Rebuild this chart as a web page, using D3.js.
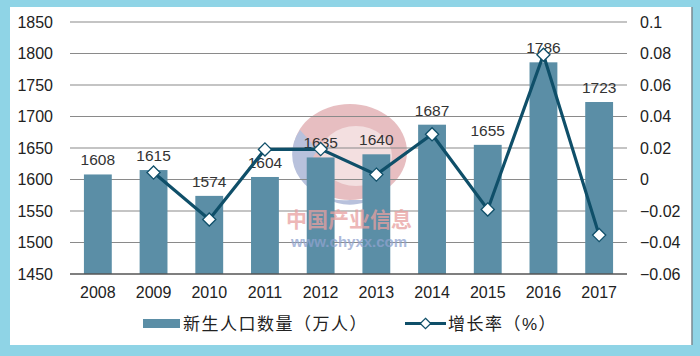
<!DOCTYPE html>
<html><head><meta charset="utf-8">
<script src="https://cdn.jsdelivr.net/npm/d3@7/dist/d3.min.js"></script>
<style>html,body{margin:0;padding:0;background:#8fd4e6;}svg{display:block;}</style>
</head><body>
<svg id="c" width="700" height="356"></svg>
<script>
const years = ["2008","2009","2010","2011","2012","2013","2014","2015","2016","2017"];
const births = [1608,1615,1574,1604,1635,1640,1687,1655,1786,1723];
const growthYears = ["2009","2010","2011","2012","2013","2014","2015","2016","2017"];
const growth = [0.0044,-0.0254,0.0191,0.0193,0.0031,0.0287,-0.0190,0.0792,-0.0353];
const leftTicks = [1450,1500,1550,1600,1650,1700,1750,1800,1850];
const rightTicks = [-0.06,-0.04,-0.02,0,0.02,0.04,0.06,0.08,0.1];
const legendBar = "新生人口数量（万人）";
const legendLine = "增长率（%）";

const svg = d3.select("#c");
const font = "Arial, 'Liberation Sans', 'Noto Sans CJK SC', sans-serif";
svg.append("rect").attr("x",0).attr("y",0).attr("width",700).attr("height",356).attr("fill","#8fd4e6");
svg.append("rect").attr("x",10).attr("y",7).attr("width",682).attr("height",338).attr("fill","#ffffff");
svg.append("line").attr("x1",692).attr("x2",692).attr("y1",7).attr("y2",345).attr("stroke","#7a8a90").attr("stroke-width",1.5);

const L = 70, R = 627, T = 22, B = 274;
const x = d3.scaleBand().domain(years).range([L,R]).paddingInner(0.5).paddingOuter(0.25);
const yL = d3.scaleLinear().domain([1450,1850]).range([B,T]);
const yR = d3.scaleLinear().domain([-0.06,0.1]).range([B,T]);

// watermark circle
const wm = svg.append("g").attr("opacity",0.55);
wm.append("ellipse").attr("cx",350).attr("cy",152).attr("rx",57).attr("ry",48).attr("fill","#d48a8f");
wm.append("path").attr("d","M300,130 A52,46 0 0 0 350,200 L370,200 A40,34 0 0 1 318,150 Z").attr("fill","#7f8fc0");
wm.append("ellipse").attr("cx",356).attr("cy",156).attr("rx",36).attr("ry",30).attr("fill","#ffffff").attr("opacity",0.5);

// gridlines
svg.append("g").selectAll("line").data(leftTicks.slice(1)).join("line")
  .attr("x1",L).attr("x2",R).attr("y1",d=>yL(d)).attr("y2",d=>yL(d))
  .attr("stroke","#8a8a8a").attr("stroke-width",1.2);

// bars
svg.append("g").selectAll("rect").data(births).join("rect")
  .attr("x",(d,i)=>x(years[i])).attr("width",x.bandwidth())
  .attr("y",d=>yL(d)).attr("height",d=>B-yL(d)).attr("fill","#5b8ea6");

// x axis line
svg.append("line").attr("x1",L).attr("x2",R).attr("y1",B).attr("y2",B).attr("stroke","#555").attr("stroke-width",1.5);

// watermark text
svg.append("text").attr("x",349).attr("y",227).attr("text-anchor","middle").attr("font-family",font)
  .attr("font-size",21).attr("font-weight","bold").attr("fill","#e8a0a0").attr("opacity",0.75).text("中国产业信息");
svg.append("text").attr("x",349).attr("y",247).attr("text-anchor","middle").attr("font-family",font)
  .attr("font-size",15).attr("font-weight","bold").attr("fill","#8fa3cf").attr("opacity",0.75).text("www.chyxx.com");

// bar labels
svg.append("g").selectAll("text").data(births).join("text")
  .attr("x",(d,i)=>x(years[i])+x.bandwidth()/2).attr("y",d=>yL(d)-9)
  .attr("text-anchor","middle").attr("font-family",font).attr("font-size",15.5)
  .attr("fill","#333").text(d=>d);

// line
const cx = yr => x(yr)+x.bandwidth()/2;
const line = d3.line().x((d,i)=>cx(growthYears[i])).y(d=>yR(d));
svg.append("path").datum(growth).attr("d",line).attr("fill","none")
  .attr("stroke","#0f4f69").attr("stroke-width",3.2).attr("stroke-linejoin","miter");
const diamond = d3.symbol().type(d3.symbolDiamond2).size(110);
svg.append("g").selectAll("path").data(growth).join("path")
  .attr("transform",(d,i)=>`translate(${cx(growthYears[i])},${yR(d)})`)
  .attr("d",diamond).attr("fill","#ffffff").attr("stroke","#0f4f69").attr("stroke-width",1.3);

// left axis labels
svg.append("g").selectAll("text").data(leftTicks).join("text")
  .attr("x",53).attr("y",d=>yL(d)+5.5).attr("text-anchor","end").attr("font-family",font)
  .attr("font-size",16).attr("fill","#222").text(d=>d);
// right axis labels
svg.append("g").selectAll("text").data(rightTicks).join("text")
  .attr("x",640).attr("y",d=>yR(d)+5.5).attr("text-anchor","start").attr("font-family",font)
  .attr("font-size",16).attr("fill","#222").text(d=>d3.format("~g")(d));
// x labels
svg.append("g").selectAll("text").data(years).join("text")
  .attr("x",d=>cx(d)).attr("y",298).attr("text-anchor","middle").attr("font-family",font)
  .attr("font-size",16).attr("fill","#222").text(d=>d);

// legend
svg.append("rect").attr("x",143).attr("y",319).attr("width",37).attr("height",9).attr("fill","#5b8ea6");
svg.append("text").attr("x",183).attr("y",330).attr("font-family",font).attr("font-size",17)
  .attr("letter-spacing",1.5).attr("fill","#222").text(legendBar);
svg.append("line").attr("x1",405).attr("x2",446).attr("y1",323.5).attr("y2",323.5).attr("stroke","#0f4f69").attr("stroke-width",3.2);
svg.append("path").attr("transform","translate(425.5,323.5)").attr("d",d3.symbol().type(d3.symbolDiamond2).size(70))
  .attr("fill","#fff").attr("stroke","#0f4f69").attr("stroke-width",1.2);
svg.append("text").attr("x",448).attr("y",330).attr("font-family",font).attr("font-size",17)
  .attr("letter-spacing",1.5).attr("fill","#222").text(legendLine);
</script>
</body></html>
